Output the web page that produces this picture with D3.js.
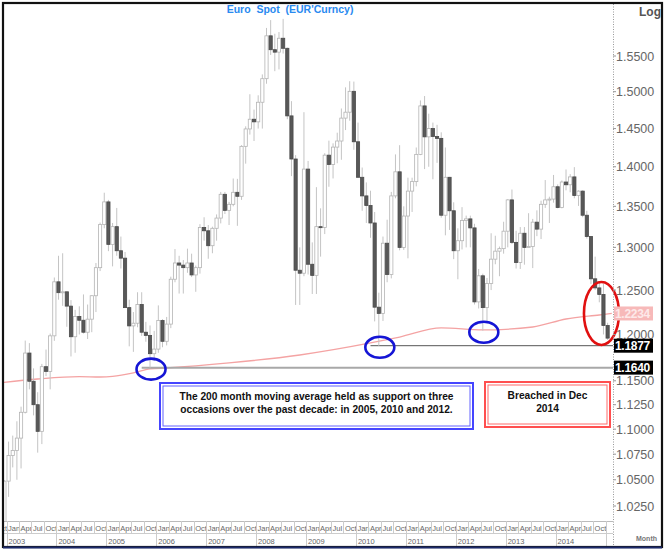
<!DOCTYPE html>
<html><head><meta charset="utf-8">
<script src="https://cdn.jsdelivr.net/npm/d3@7"></script>
<style>
body{margin:0;background:#fff}
svg{display:block;font-family:"Liberation Sans",Arial,Helvetica,sans-serif}
</style>
</head><body><svg id="c" width="670" height="550"></svg>
<script>
// ---------- DATA (monthly EUR/USD candles, Nov 2002 .. Jan 2015) ----------
const firstMonthIndex = -2; // Nov 2002, months counted from Jan 2003
const opens = [0.9870,0.9925,
1.0487,1.0736,1.0787,1.0910,1.1172,1.1797,1.1495,1.1250,1.0978,1.1650,1.1600,1.1985,
1.2595,1.2470,1.2480,1.2317,1.1975,1.2200,1.2158,1.2025,1.2170,1.2435,1.2760,1.3275,
1.3555,1.3036,1.3250,1.2960,1.2872,1.2300,1.2095,1.2125,1.2335,1.2025,1.1990,1.1790,
1.1840,1.2155,1.1925,1.2115,1.2625,1.2815,1.2790,1.2760,1.2815,1.2675,1.2760,1.3240,
1.3200,1.3020,1.3230,1.3355,1.3650,1.3450,1.3525,1.3675,1.3625,1.4265,1.4495,1.4625,
1.4590,1.4855,1.5180,1.5790,1.5590,1.5555,1.5755,1.5610,1.4670,1.4100,1.2730,1.2695,
1.3970,1.2800,1.2670,1.3250,1.3240,1.4150,1.4030,1.4255,1.4335,1.4640,1.4720,1.5005,
1.4325,1.3865,1.3630,1.3510,1.3295,1.2305,1.2235,1.3050,1.2680,1.3630,1.3935,1.3000,
1.3380,1.3690,1.3810,1.4160,1.4805,1.4390,1.4500,1.4395,1.4370,1.3390,1.3865,1.3445,
1.2960,1.3080,1.3325,1.3345,1.3235,1.2365,1.2665,1.2300,1.2575,1.2860,1.2955,1.2985,
1.3195,1.3580,1.3060,1.2820,1.3170,1.3000,1.3010,1.3305,1.3220,1.3525,1.3580,1.3590,
1.3745,1.3485,1.3805,1.3770,1.3870,1.3635,1.3690,1.3390,1.3130,1.2630,1.2525,1.2450,
1.2100];
const highs = [1.0140,1.0495,
1.0875,1.0935,1.1080,1.1230,1.1933,1.1905,1.1632,1.1380,1.1680,1.1835,1.2010,1.2645,
1.2900,1.2930,1.2480,1.2385,1.2275,1.2315,1.2450,1.2335,1.2440,1.2815,1.3300,1.3670,
1.3580,1.3295,1.3480,1.3130,1.2945,1.2390,1.2250,1.2475,1.2475,1.2140,1.2100,1.2040,
1.2325,1.2170,1.2195,1.2655,1.2980,1.2900,1.2850,1.2985,1.2925,1.2785,1.3280,1.3365,
1.3270,1.3250,1.3400,1.3680,1.3680,1.3555,1.3850,1.3845,1.4280,1.4530,1.4965,1.4755,
1.4950,1.5240,1.5905,1.6020,1.5820,1.5845,1.6038,1.5620,1.4870,1.4150,1.3000,1.4720,
1.4075,1.3060,1.3740,1.3475,1.4175,1.4340,1.4305,1.4445,1.4770,1.5060,1.5145,1.5140,
1.4580,1.3990,1.3800,1.3695,1.3430,1.2470,1.3130,1.3335,1.3680,1.4160,1.4280,1.3500,
1.3860,1.3860,1.4250,1.4880,1.4940,1.4700,1.4580,1.4550,1.4450,1.4250,1.3870,1.3550,
1.3230,1.3490,1.3385,1.3385,1.3285,1.2745,1.2690,1.2640,1.3170,1.3140,1.3010,1.3310,
1.3590,1.3710,1.3200,1.3245,1.3245,1.3415,1.3345,1.3450,1.3570,1.3830,1.3620,1.3895,
1.3775,1.3825,1.3965,1.3905,1.3995,1.3700,1.3700,1.3445,1.3135,1.2890,1.2600,1.2570,
1.2130];
const lows = [0.9860,0.9862,
1.0336,1.0620,1.0500,1.0610,1.1160,1.1410,1.1140,1.0765,1.0850,1.1550,1.1410,1.1930,
1.2390,1.2320,1.2085,1.1760,1.1800,1.2000,1.2010,1.1950,1.2025,1.2250,1.2720,1.3230,
1.2955,1.2775,1.2900,1.2750,1.2300,1.1870,1.1810,1.2080,1.1985,1.1920,1.1640,1.1710,
1.1800,1.1860,1.1880,1.2070,1.2590,1.2460,1.2460,1.2700,1.2650,1.2480,1.2690,1.3080,
1.2865,1.2930,1.3080,1.3290,1.3405,1.3270,1.3500,1.3260,1.3580,1.4040,1.4420,1.4335,
1.4500,1.4500,1.5110,1.5515,1.5285,1.5310,1.5535,1.4625,1.3880,1.2330,1.2330,1.2660,
1.2680,1.2455,1.2455,1.2890,1.3160,1.3745,1.3850,1.4045,1.4090,1.4480,1.4605,1.4220,
1.3865,1.3445,1.3295,1.3115,1.2145,1.1876,1.2150,1.2590,1.2635,1.3600,1.2965,1.2970,
1.2870,1.3430,1.3750,1.4150,1.3970,1.4000,1.3840,1.4050,1.3360,1.3145,1.3210,1.2860,
1.2625,1.2975,1.3000,1.3000,1.2335,1.2290,1.2042,1.2135,1.2500,1.2800,1.2660,1.2925,
1.3000,1.3040,1.2750,1.2745,1.2795,1.3000,1.2755,1.3135,1.3100,1.3480,1.3295,1.3545,
1.3475,1.3475,1.3700,1.3675,1.3600,1.3505,1.3365,1.3105,1.2570,1.2500,1.2360,1.2000,
1.1940];
const closes = [0.9925,1.0487,
1.0736,1.0787,1.0910,1.1172,1.1797,1.1495,1.1250,1.0978,1.1650,1.1600,1.1985,1.2595,
1.2470,1.2480,1.2317,1.1975,1.2200,1.2158,1.2025,1.2170,1.2435,1.2760,1.3275,1.3555,
1.3036,1.3250,1.2960,1.2872,1.2300,1.2095,1.2125,1.2335,1.2025,1.1990,1.1790,1.1840,
1.2155,1.1925,1.2115,1.2625,1.2815,1.2790,1.2760,1.2815,1.2675,1.2760,1.3240,1.3200,
1.3020,1.3230,1.3355,1.3650,1.3450,1.3525,1.3675,1.3625,1.4265,1.4495,1.4625,1.4590,
1.4855,1.5180,1.5790,1.5590,1.5555,1.5755,1.5610,1.4670,1.4100,1.2730,1.2695,1.3970,
1.2800,1.2670,1.3250,1.3240,1.4150,1.4030,1.4255,1.4335,1.4640,1.4720,1.5005,1.4325,
1.3865,1.3630,1.3510,1.3295,1.2305,1.2235,1.3050,1.2680,1.3630,1.3935,1.3000,1.3380,
1.3690,1.3810,1.4160,1.4805,1.4390,1.4500,1.4395,1.4370,1.3390,1.3865,1.3445,1.2960,
1.3080,1.3325,1.3345,1.3235,1.2365,1.2665,1.2300,1.2575,1.2860,1.2955,1.2985,1.3195,
1.3580,1.3060,1.2820,1.3170,1.3000,1.3010,1.3305,1.3220,1.3525,1.3580,1.3590,1.3745,
1.3485,1.3805,1.3770,1.3870,1.3635,1.3690,1.3390,1.3130,1.2630,1.2525,1.2450,1.2100,
1.1960];

// 200-month moving average (month index, value)
const maMonths = [-2, 7, 17, 22, 25, 30, 34, 38, 53, 70, 87, 94, 104, 114, 126, 134, 142, 145];
const maValues = [1.1480,1.1519,1.1544,1.1540,1.1546,1.1583,1.1626,1.1636,1.1690,1.1776,1.1907,1.1972,1.2072,1.2050,1.2083,1.2172,1.2217,1.2234];

const yTickValues = [1.025,1.05,1.075,1.1,1.125,1.15,1.2,1.25,1.3,1.35,1.4,1.45,1.5,1.55];
const quarterLabels = ["Jan","Apr","Jul","Oct"];
const yearLabels = ["2003","2004","2005","2006","2007","2008","2009","2010","2011","2012","2013","2014"];

const supportLevels = [1.1640, 1.1877];
const supportFromMonth = [32, 87];
const maLastValue = 1.2234;
const supportLowMonths = [34, 89, 114];
const supportLowValues = [1.1640, 1.1876, 1.2042];
const breachMonth = 143;

const titleText = "Euro  Spot  (EUR'Curncy)";
const noteBlue = ["The 200 month moving average held as support on three","occasions over the past decade: in 2005, 2010 and 2012."];
const noteRed = ["Breached in Dec","2014"];

// ---------- LAYOUT ----------
const svg = d3.select("#c");
const plotL = 4, plotR = 613, plotT = 4, plotB = 521;
const x = d3.scaleLinear().domain([0, 146]).range([6.5, 6.5 + 146 * 4.16]);
const xc = m => x(m + 0.5);
const y = d3.scaleLog().domain([1.025, 1.55]).range([506, 56]);

svg.append("rect").attr("width",670).attr("height",550).attr("fill","#fff");

const defs = svg.append("defs");
defs.append("clipPath").attr("id","plotclip").append("rect")
  .attr("x",plotL).attr("y",plotT).attr("width",plotR-plotL).attr("height",plotB-plotT);
defs.append("clipPath").attr("id","axclip").append("rect")
  .attr("x",plotL).attr("y",plotB).attr("width",plotR-plotL).attr("height",27);

const candles = opens.map((o,i)=>({m:firstMonthIndex+i,o,h:highs[i],l:lows[i],c:closes[i]}));

const plot = svg.append("g").attr("clip-path","url(#plotclip)");

// MA line
const maData = maMonths.map((m,i)=>({m, v:maValues[i]}));
plot.append("path").datum(maData)
  .attr("fill","none").attr("stroke","#f4a3a3").attr("stroke-width",1.3)
  .attr("d", d3.line().x(d=>xc(d.m)).y(d=>y(d.v)).curve(d3.curveMonotoneX));

// support lines
plot.append("line").attr("x1",xc(supportFromMonth[0])).attr("x2",plotR)
  .attr("y1",y(supportLevels[0])).attr("y2",y(supportLevels[0]))
  .attr("stroke","#a8a8a8").attr("stroke-width",2);
plot.append("line").attr("x1",xc(supportFromMonth[1])).attr("x2",plotR)
  .attr("y1",y(supportLevels[1])).attr("y2",y(supportLevels[1]))
  .attr("stroke","#555").attr("stroke-width",1);

// candles
const cg = plot.selectAll("g.cd").data(candles).join("g").attr("class","cd");
cg.append("line")
  .attr("x1",d=>xc(d.m)).attr("x2",d=>xc(d.m))
  .attr("y1",d=>y(d.h)).attr("y2",d=>y(d.l))
  .attr("stroke","#c4c4c4").attr("stroke-width",1);
cg.append("rect")
  .attr("x",d=>xc(d.m)-1.6).attr("width",3.2)
  .attr("y",d=>y(Math.max(d.o,d.c)))
  .attr("height",d=>Math.max(1,Math.abs(y(d.o)-y(d.c))))
  .attr("fill",d=>d.c>=d.o?"#fff":"#585858")
  .attr("stroke",d=>d.c>=d.o?"#b4b4b4":"#4a4a4a")
  .attr("stroke-width",0.8);

// ellipses
supportLowMonths.forEach((m,i)=>{
  svg.append("ellipse").attr("cx",xc(m)+1).attr("cy",y(supportLowValues[i])+1.5)
    .attr("rx",14.5).attr("ry",10.5)
    .attr("fill","none").attr("stroke","#1515d5").attr("stroke-width",2.6);
});
svg.append("ellipse").attr("cx",xc(breachMonth)-2).attr("cy",y(maLastValue))
  .attr("rx",17.5).attr("ry",31.5)
  .attr("fill","none").attr("stroke","#e11010").attr("stroke-width",2.6);

// title
svg.append("text").attr("x",290).attr("y",13).attr("text-anchor","middle")
  .attr("font-size",10.5).attr("font-weight","bold").attr("fill","#2a8af0")
  .attr("xml:space","preserve").style("white-space","pre").text(titleText);

// annotation boxes
function noteBox(bx,by,bw,bh,outer,inner,lines){
  svg.append("rect").attr("x",bx).attr("y",by).attr("width",bw).attr("height",bh)
    .attr("fill","#fff").attr("stroke",outer).attr("stroke-width",2);
  svg.append("rect").attr("x",bx+3).attr("y",by+3).attr("width",bw-6).attr("height",bh-6)
    .attr("fill","none").attr("stroke",inner).attr("stroke-width",1);
  lines.forEach((t,i)=>{
    svg.append("text").attr("x",bx+bw/2).attr("y",by+17+i*13).attr("text-anchor","middle")
      .attr("font-size",10.2).attr("font-weight","bold").attr("fill","#111").text(t);
  });
}
noteBox(160,383,313,46,"#4545ff","#6262ff",noteBlue);
noteBox(485,382,125,45,"#ff4f4f","#ff6b6b",noteRed);

// right axis
svg.append("line").attr("x1",plotR+0.5).attr("x2",plotR+0.5).attr("y1",4).attr("y2",547)
  .attr("stroke","#999").attr("stroke-width",1).attr("stroke-dasharray","1,1.5");
yTickValues.forEach(v=>{
  svg.append("line").attr("x1",plotR).attr("x2",plotR+3).attr("y1",y(v)).attr("y2",y(v))
    .attr("stroke","#999");
  svg.append("text").attr("x",plotR+3).attr("y",y(v)+4.5).attr("font-size",12.5)
    .attr("fill","#666").text(v.toFixed(4));
});
function valueTag(v,fill,txt){
  svg.append("rect").attr("x",plotR+1).attr("y",y(v)-7).attr("width",39).attr("height",14).attr("fill",fill);
  svg.append("text").attr("x",plotR+2).attr("y",y(v)+4.5).attr("font-size",12)
    .attr("font-weight","bold").attr("letter-spacing",-0.3).attr("fill",txt).text(v.toFixed(4));
}
valueTag(maLastValue,"#f7b9b9","#fde9e9");
valueTag(supportLevels[1],"#000","#fff");
valueTag(supportLevels[0],"#000","#fff");

svg.append("text").attr("x",639).attr("y",16).attr("font-size",12).attr("font-weight","bold")
  .attr("fill","#555").text("Log");
svg.append("text").attr("x",636).attr("y",541).attr("font-size",7).attr("font-weight","bold")
  .attr("fill","#777").text("Month");

// bottom time axis
const ax = svg.append("g").attr("clip-path","url(#axclip)");
ax.append("line").attr("x1",plotL).attr("x2",plotR).attr("y1",521.5).attr("y2",521.5).attr("stroke","#bbb");
ax.append("line").attr("x1",plotL).attr("x2",plotR).attr("y1",533.5).attr("y2",533.5).attr("stroke","#ccc");
const quarters = d3.range(-3, 146, 3);
quarters.forEach(m=>{
  ax.append("line").attr("x1",Math.round(x(m))+0.5).attr("x2",Math.round(x(m))+0.5)
    .attr("y1",521).attr("y2",533).attr("stroke","#ccc");
  if (x(m+3) <= plotR+1)
    ax.append("text").attr("x",x(m)+1.5).attr("y",531).attr("font-size",7.5).attr("fill","#666")
      .text(quarterLabels[((m%12)+12)%12/3]);
});
d3.range(-12, 146, 12).forEach(m=>{
  ax.append("line").attr("x1",Math.round(x(m))+0.5).attr("x2",Math.round(x(m))+0.5)
    .attr("y1",533).attr("y2",547).attr("stroke","#ccc");
});
yearLabels.forEach((t,k)=>{
  ax.append("text").attr("x",x(12*k)+2).attr("y",544).attr("font-size",7.5).attr("fill","#666").text(t);
});
svg.append("line").attr("x1",Math.round(x(144))+0.5).attr("x2",Math.round(x(144))+0.5)
  .attr("y1",521).attr("y2",547).attr("stroke","#ccc");

// outer frame
svg.append("rect").attr("x",3).attr("y",3).attr("width",659).attr("height",544)
  .attr("fill","none").attr("stroke","#111").attr("stroke-width",2.2);
svg.append("line").attr("x1",3).attr("x2",662).attr("y1",547.5).attr("y2",547.5)
  .attr("stroke","#1c2a6a").attr("stroke-width",2);
</script>
</body></html>
